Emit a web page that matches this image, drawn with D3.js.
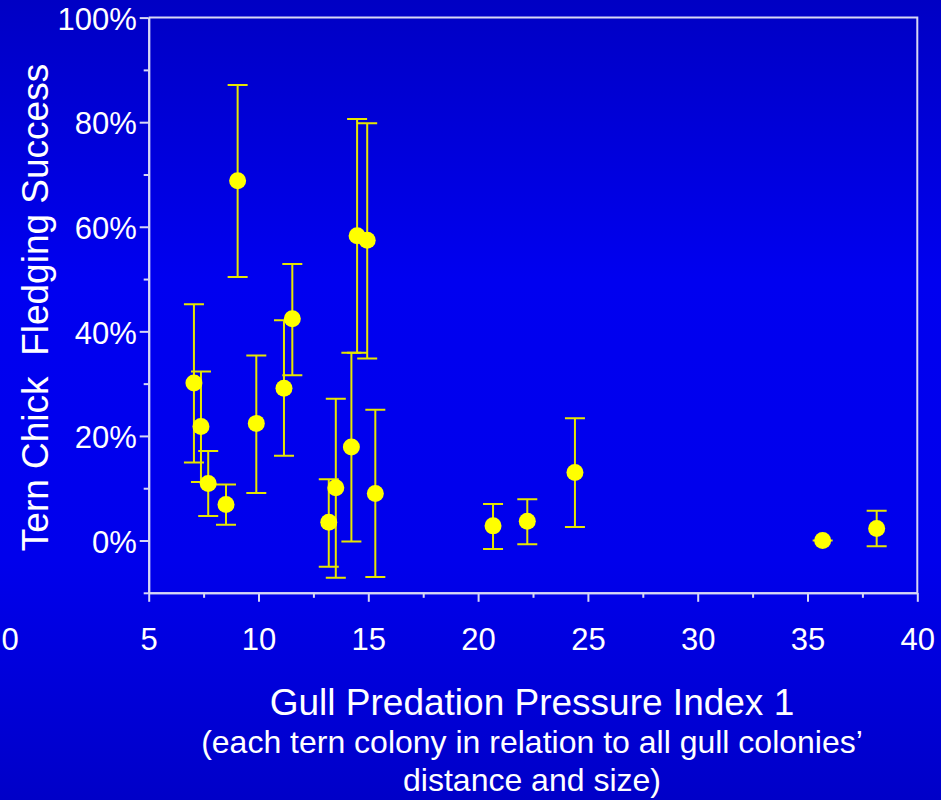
<!DOCTYPE html>
<html>
<head>
<meta charset="utf-8">
<script src="https://cdn.jsdelivr.net/npm/d3@7"></script>
<style>
    body { margin: 0; padding: 0; background: #0000d0; }
    svg { display: block; font-family: "Liberation Sans", Arial, sans-serif; }
</style>
</head>
<body>
<svg id="drawing_region"></svg>
<script>
// gull predation pressure index (x) and tern fledging success in % (y)
const gpi     = [7.06, 7.38, 7.71, 8.52, 9.05, 9.90, 11.16, 11.54, 13.20, 13.52, 14.23, 14.49, 14.95, 15.32, 20.68, 22.24, 24.41, 35.69, 38.15];
const success = [30.1, 21.8, 10.9, 6.9, 68.8, 22.4, 29.1, 42.4, 3.5, 10.1, 17.9, 58.3, 57.4, 9.0, 2.8, 3.7, 13.0, 0.0, 2.3];
const upper   = [45.2, 32.3, 17.1, 10.7, 87.1, 35.4, 42.1, 52.9, 11.7, 27.1, 35.9, 80.6, 79.8, 25.0, 7.0, 7.9, 23.4, 0.0, 5.7];
const lower   = [14.9, 11.2, 4.7, 3.0, 50.4, 9.1, 16.2, 31.6, -5.0, -7.1, -0.2, 35.9, 34.8, -7.0, -1.6, -0.7, 2.6, 0.0, -1.1];

const xMajorTicks = [5, 10, 15, 20, 25, 30, 35, 40];
const xMinorTicks = [7.5, 12.5, 17.5, 22.5, 27.5, 32.5, 37.5];
const yMajorTicks = [0, 20, 40, 60, 80, 100];
const yMinorTicks = [-10, 10, 30, 50, 70, 90];

const xTitle = "Gull Predation Pressure Index 1";
const xSubtitle = ["(each tern colony in relation to all gull colonies\u2019", "distance and size)"];
const yTitle = "Tern Chick\u00a0 Fledging Success";

const data = gpi.map((x, i) => ({ x: x, y: success[i], hi: upper[i], lo: lower[i] }));

const width = 941, height = 800;
const margin = { left: 148.7, right: 917.3, top: 17.6, bottom: 592.8 };
const axisColor = '#d8d8f4';

const svg = d3.select('#drawing_region')
    .attr('width', width)
    .attr('height', height);

// background gradient
const grad = svg.append('defs').append('linearGradient')
    .attr('id', 'bg').attr('x1', 0).attr('y1', 0).attr('x2', 0).attr('y2', 1);
grad.append('stop').attr('offset', '0%').attr('stop-color', '#0000c4');
grad.append('stop').attr('offset', '35%').attr('stop-color', '#0000f0');
grad.append('stop').attr('offset', '70%').attr('stop-color', '#0000ec');
grad.append('stop').attr('offset', '100%').attr('stop-color', '#0000c8');
svg.append('rect').attr('width', width).attr('height', height).attr('fill', 'url(#bg)');

const xscale = d3.scaleLinear().domain([5, 40]).range([margin.left, margin.right]);
const yscale = d3.scaleLinear().domain([-10, 100]).range([margin.bottom, margin.top]);

// frame top and right
svg.append('path')
    .attr('d', `M${margin.left},${margin.top}H${margin.right}V${margin.bottom}`)
    .attr('fill', 'none')
    .attr('stroke', axisColor)
    .attr('stroke-width', 2);

// x axis
svg.append('g').attr('transform', `translate(0,${margin.bottom})`)
    .call(d3.axisBottom(xscale).tickValues(xMinorTicks).tickSize(5).tickSizeOuter(0).tickFormat(''));
const xMajor = svg.append('g').attr('transform', `translate(0,${margin.bottom})`)
    .call(d3.axisBottom(xscale).tickValues(xMajorTicks).tickSize(9).tickSizeOuter(0).tickFormat(d3.format('d')));
xMajor.selectAll('text').attr('y', 57).attr('dy', 0);

// y axis
svg.append('g').attr('transform', `translate(${margin.left},0)`)
    .call(d3.axisLeft(yscale).tickValues(yMinorTicks).tickSize(5).tickSizeOuter(0).tickFormat(''));
const yMajor = svg.append('g').attr('transform', `translate(${margin.left},0)`)
    .call(d3.axisLeft(yscale).tickValues(yMajorTicks).tickSize(9).tickSizeOuter(0).tickFormat(d => d + '%'));
yMajor.selectAll('text').attr('x', -12).attr('dy', '0.38em');

svg.selectAll('.domain, .tick line')
    .attr('stroke', axisColor)
    .attr('stroke-width', 2);
svg.selectAll('.tick text')
    .attr('fill', '#ffffff')
    .style('font-family', '"Liberation Sans", Arial, sans-serif')
    .style('font-size', '31px');

// stray "0" label left of the axis, as in the slide
svg.append('text')
    .attr('x', 10).attr('y', margin.bottom + 57)
    .attr('text-anchor', 'middle')
    .attr('fill', '#ffffff')
    .style('font-size', '31px')
    .text('0');

// error bars
const bars = svg.append('g')
    .attr('stroke', '#e6e600')
    .attr('stroke-width', 2)
    .attr('fill', 'none');
bars.selectAll('path')
    .data(data)
    .join('path')
    .attr('d', d => {
        const cx = xscale(d.x), y1 = yscale(d.hi), y2 = yscale(d.lo);
        return `M${cx - 10},${y1}H${cx + 10}M${cx},${y1}V${y2}M${cx - 10},${y2}H${cx + 10}`;
    });

// points
svg.append('g').selectAll('circle')
    .data(data)
    .join('circle')
    .attr('cx', d => xscale(d.x))
    .attr('cy', d => yscale(d.y))
    .attr('r', 8.5)
    .attr('fill', '#ffff00');

// titles
svg.append('text')
    .attr('x', 532).attr('y', 715)
    .attr('text-anchor', 'middle')
    .attr('fill', '#ffffff')
    .style('font-size', '37px')
    .text(xTitle);

svg.append('g').selectAll('text')
    .data(xSubtitle)
    .join('text')
    .attr('x', 532)
    .attr('y', (d, i) => 753 + i * 38)
    .attr('text-anchor', 'middle')
    .attr('fill', '#ffffff')
    .style('font-size', '32px')
    .text(d => d);

svg.append('text')
    .attr('transform', 'translate(48,307.5) rotate(-90)')
    .attr('text-anchor', 'middle')
    .attr('fill', '#ffffff')
    .style('font-size', '37px')
    .text(yTitle);
</script>
</body>
</html>
